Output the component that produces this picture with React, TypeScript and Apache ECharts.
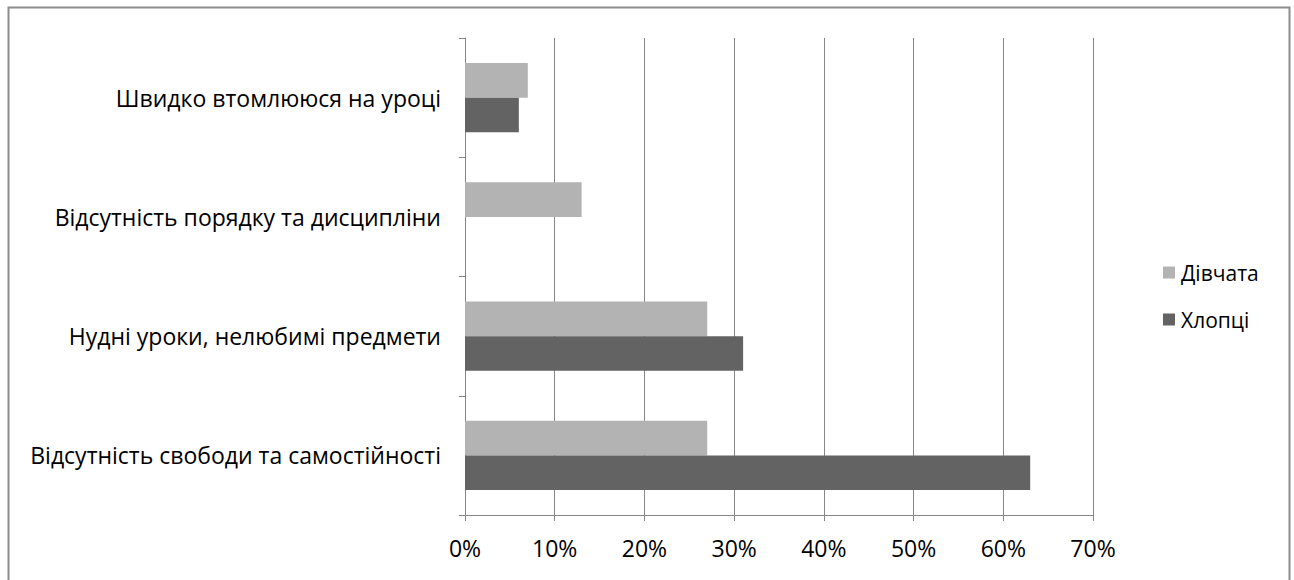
import React, { useEffect, useRef } from "react";
import * as echarts from "echarts";

// Reasons listed bottom-to-top on the category axis
const categories = [
  "Відсутність свободи та самостійності",
  "Нудні уроки, нелюбимі предмети",
  "Відсутність порядку та дисципліни",
  "Швидко втомлююся на уроці",
];
const girls = [27, 27, 13, 7];
const boys = [63, 31, 0, 6];
const seriesNames = ["Дівчата", "Хлопці"];

const FONT = "'Open Sans', Roboto, sans-serif";
const SIZE = 23;

export default function App() {
  const ref = useRef<HTMLDivElement>(null);
  useEffect(() => {
    if (!ref.current) return;
    const chart = echarts.init(ref.current, null, { renderer: "svg" });
    chart.setOption({
      animation: false,
      textStyle: { fontFamily: FONT },
      graphic: [
        {
          type: "rect",
          shape: { x: 8.5, y: 7.5, width: 1281, height: 600 },
          style: { fill: "none", stroke: "#8c8c8c", lineWidth: 2 },
          silent: true,
        },
      ],
      grid: { left: 465, right: 201, top: 38, bottom: 65, containLabel: false },
      legend: {
        orient: "vertical",
        left: 1158,
        top: 257,
        data: seriesNames,
        icon: "rect",
        itemWidth: 12,
        itemHeight: 12,
        itemGap: 26,
        textStyle: { fontFamily: FONT, fontSize: 21, color: "#000", padding: [0, 0, 0, 1] },
      },
      xAxis: {
        type: "value",
        min: 0,
        max: 70,
        interval: 10,
        axisLabel: {
          formatter: "{value}%",
          fontSize: SIZE,
          color: "#000",
          margin: 21,
          fontFamily: FONT,
        },
        axisLine: { show: true, lineStyle: { color: "#868686", width: 1 } },
        axisTick: { show: true, length: 6, lineStyle: { color: "#868686" } },
        splitLine: { show: true, lineStyle: { color: "#868686", width: 1 } },
      },
      yAxis: {
        type: "category",
        data: categories,
        axisLabel: {
          fontSize: SIZE,
          color: "#000",
          margin: 24,
          padding: [6, 0, 0, 0],
          fontFamily: FONT,
        },
        axisLine: { show: true, lineStyle: { color: "#868686", width: 1 } },
        axisTick: { show: true, length: 6, lineStyle: { color: "#868686" } },
        splitLine: { show: false },
      },
      series: [
        {
          name: "Дівчата",
          type: "bar",
          data: girls,
          barGap: "0%",
          barCategoryGap: "42%",
          itemStyle: { color: "#b3b3b3" },
        },
        {
          name: "Хлопці",
          type: "bar",
          data: boys,
          barGap: "0%",
          barCategoryGap: "42%",
          itemStyle: { color: "#636363" },
        },
      ],
    });
    return () => chart.dispose();
  }, []);
  return (
    <div
      ref={ref}
      style={{ position: "absolute", left: 0, top: 0, width: 1294, height: 580, background: "#fff" }}
    />
  );
}
